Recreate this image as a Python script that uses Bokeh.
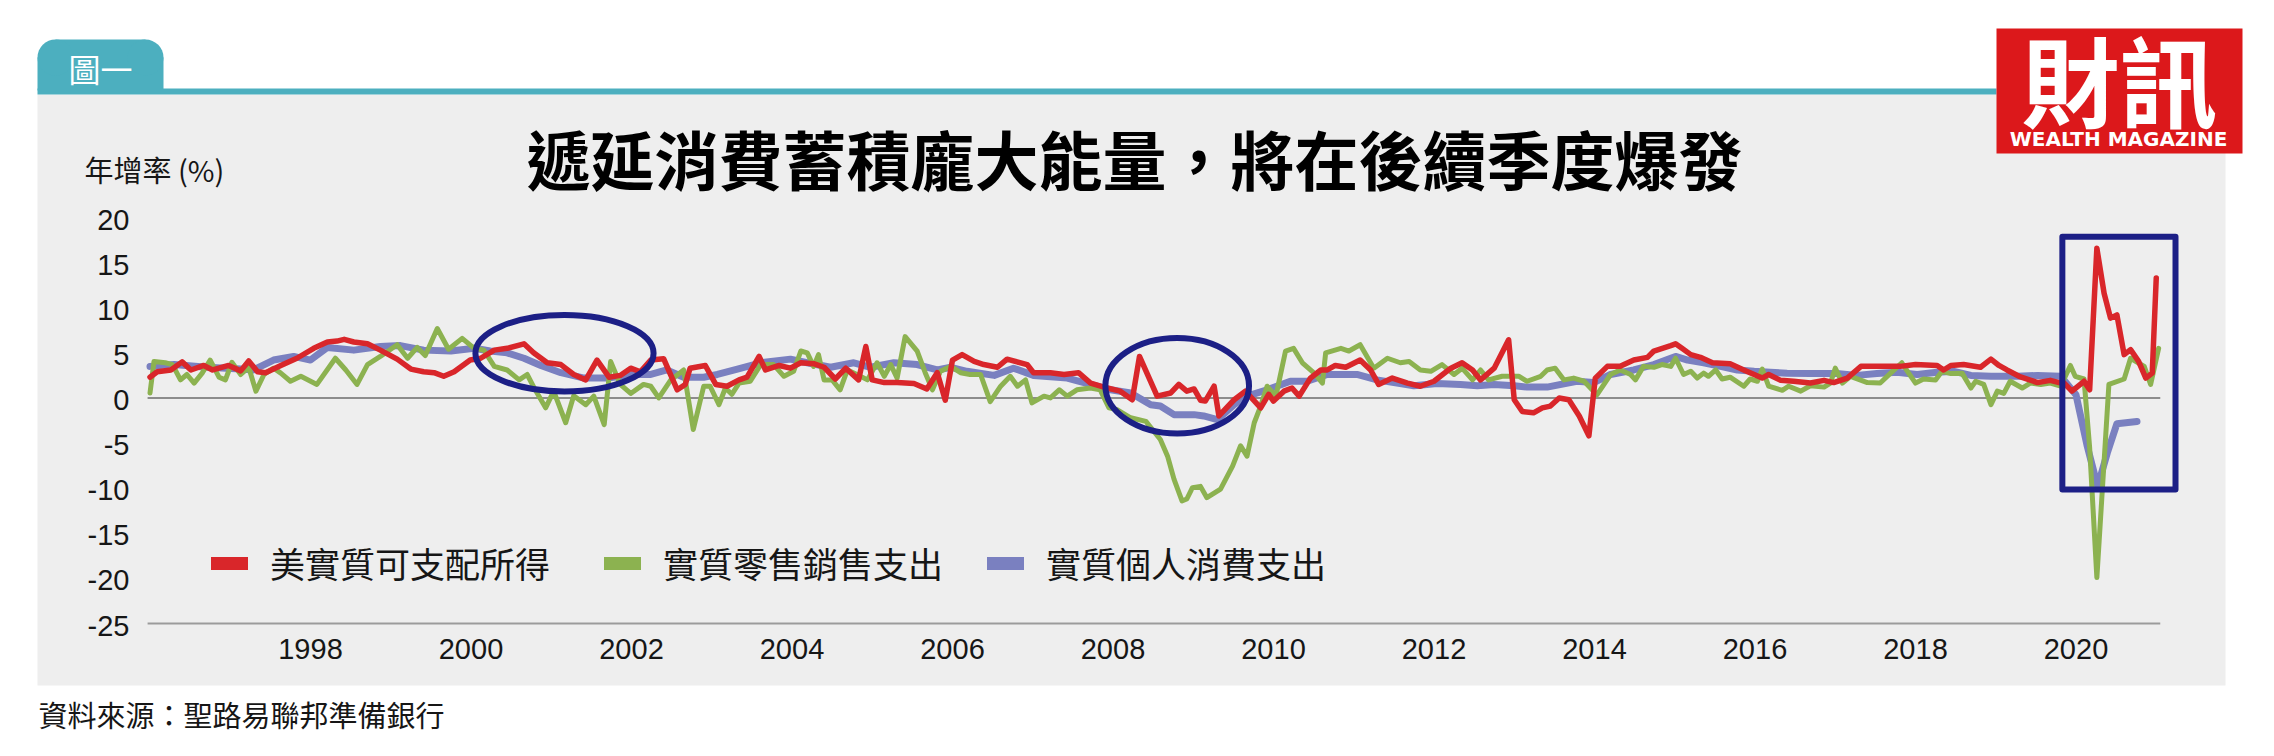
from bokeh.plotting import figure
from bokeh.models import Range1d, Label, Legend, LegendItem
from bokeh.core.properties import value
from bokeh.embed import file_html
from bokeh.resources import INLINE

# ---------------- data ----------------
red_x = [1996.00, 1996.09, 1996.26, 1996.40, 1996.51, 1996.67, 1996.78, 1996.98, 1997.13, 1997.23,
         1997.34, 1997.44, 1997.63, 1997.83, 1998.04, 1998.21, 1998.33, 1998.42, 1998.54, 1998.71,
         1998.87, 1999.08, 1999.25, 1999.41, 1999.54, 1999.66, 1999.79, 1999.99, 2000.12, 2000.29,
         2000.45, 2000.66, 2000.78, 2000.95, 2001.12, 2001.28, 2001.43, 2001.57, 2001.72, 2001.86,
         2001.99, 2002.11, 2002.24, 2002.40, 2002.57, 2002.67, 2002.73, 2002.92, 2003.05, 2003.19,
         2003.34, 2003.44, 2003.59, 2003.67, 2003.84, 2003.98, 2004.11, 2004.27, 2004.40, 2004.54,
         2004.67, 2004.83, 2004.92, 2005.00, 2005.15, 2005.31, 2005.52, 2005.68, 2005.81, 2005.91,
         2006.00, 2006.12, 2006.27, 2006.39, 2006.56, 2006.68, 2006.93, 2007.01, 2007.22, 2007.39,
         2007.57, 2007.72, 2007.93, 2008.09, 2008.24, 2008.33, 2008.55, 2008.72, 2008.82, 2008.92,
         2009.01, 2009.09, 2009.15, 2009.26, 2009.32, 2009.51, 2009.65, 2009.84, 2009.94, 2010.00,
         2010.13, 2010.23, 2010.32, 2010.46, 2010.59, 2010.67, 2010.77, 2010.90, 2011.08, 2011.21,
         2011.31, 2011.48, 2011.67, 2011.83, 2012.00, 2012.21, 2012.35, 2012.48, 2012.58, 2012.75,
         2012.93, 2013.00, 2013.10, 2013.24, 2013.35, 2013.45, 2013.56, 2013.68, 2013.81, 2013.93,
         2014.01, 2014.16, 2014.32, 2014.49, 2014.66, 2014.74, 2014.95, 2015.01, 2015.09, 2015.20,
         2015.32, 2015.47, 2015.69, 2015.86, 2016.09, 2016.17, 2016.32, 2016.48, 2016.69, 2016.86,
         2016.98, 2017.15, 2017.32, 2017.52, 2017.81, 2018.00, 2018.27, 2018.35, 2018.44, 2018.60,
         2018.81, 2018.94, 2019.04, 2019.14, 2019.29, 2019.52, 2019.68, 2019.79, 2019.85, 2019.95,
         2020.10, 2020.17, 2020.26, 2020.35, 2020.43, 2020.51, 2020.60, 2020.68, 2020.78, 2020.87,
         2020.95, 2021.00]
red_y = [2.3, 2.9, 3.1, 4.0, 3.1, 3.6, 3.1, 3.6, 3.0, 4.1,
         2.9, 2.8, 3.6, 4.4, 5.5, 6.2, 6.3, 6.5, 6.2, 6.0,
         5.3, 4.3, 3.2, 2.9, 2.8, 2.4, 2.9, 4.2, 4.4, 5.3,
         5.5, 6.0, 5.0, 3.9, 3.7, 2.6, 2.0, 4.2, 2.3, 2.5,
         3.3, 2.9, 4.2, 4.35, 0.9, 1.5, 3.3, 3.6, 1.5, 1.3,
         2.0, 2.3, 4.6, 3.1, 3.6, 3.3, 3.9, 3.8, 3.4, 2.1,
         3.3, 2.0, 5.7, 2.0, 1.7, 1.7, 1.6, 1.0, 2.8, -0.25,
         4.2, 4.8, 4.05, 3.7, 3.4, 4.3, 3.7, 2.8, 2.8, 2.6,
         2.8, 1.65, 1.1, 0.75, -0.2, 4.6, 0.2, 0.55, 1.5, 0.75,
         1.0, -0.25, -0.35, 1.3, -2.0, -0.2, 0.75, -1.1, 0.4, -0.35,
         0.75, 1.1, 0.2, 2.2, 3.1, 3.1, 3.6, 3.4, 4.2, 3.1,
         1.5, 2.2, 1.65, 1.3, 1.85, 3.3, 3.9, 3.1, 2.0, 3.3,
         6.45, -0.2, -1.5, -1.65, -1.1, -0.9, 0.0, -0.2, -2.0, -4.2,
         2.2, 3.5, 3.5, 4.2, 4.5, 5.2, 5.8, 6.0, 5.5, 4.8,
         4.5, 3.9, 3.8, 3.1, 2.2, 2.6, 1.95, 1.85, 1.65, 1.95,
         1.7, 2.2, 3.5, 3.5, 3.5, 3.7, 3.6, 3.1, 3.6, 3.7,
         3.4, 4.3, 3.6, 3.1, 2.4, 1.7, 1.95, 1.7, 1.65, 0.75,
         1.85, 0.9, 16.6, 11.6, 8.85, 9.2, 4.8, 5.35, 4.05, 2.2,
         2.75, 13.3]

green_x = [1996.00, 1996.05, 1996.19, 1996.28, 1996.38, 1996.46, 1996.55, 1996.65, 1996.75, 1996.86,
           1996.94, 1997.02, 1997.13, 1997.23, 1997.32, 1997.42, 1997.54, 1997.63, 1997.75, 1997.88,
           1998.08, 1998.31, 1998.44, 1998.58, 1998.71, 1998.87, 1999.08, 1999.21, 1999.33, 1999.43,
           1999.58, 1999.72, 1999.89, 2000.04, 2000.16, 2000.29, 2000.45, 2000.60, 2000.70, 2000.80,
           2000.93, 2001.03, 2001.18, 2001.28, 2001.43, 2001.53, 2001.66, 2001.74, 2001.86, 2001.99,
           2002.15, 2002.24, 2002.34, 2002.49, 2002.65, 2002.77, 2002.90, 2002.98, 2003.09, 2003.17,
           2003.25, 2003.34, 2003.48, 2003.61, 2003.77, 2003.90, 2004.02, 2004.11, 2004.19, 2004.27,
           2004.33, 2004.40, 2004.50, 2004.60, 2004.69, 2004.81, 2004.94, 2005.06, 2005.15, 2005.23,
           2005.31, 2005.41, 2005.56, 2005.66, 2005.75, 2005.85, 2005.98, 2006.10, 2006.22, 2006.35,
           2006.47, 2006.60, 2006.72, 2006.81, 2006.91, 2006.99, 2007.14, 2007.22, 2007.33, 2007.43,
           2007.55, 2007.72, 2007.84, 2007.95, 2008.05, 2008.22, 2008.41, 2008.59, 2008.68, 2008.76,
           2008.86, 2008.92, 2008.99, 2009.09, 2009.17, 2009.34, 2009.49, 2009.59, 2009.67, 2009.76,
           2009.84, 2009.92, 2010.03, 2010.15, 2010.25, 2010.36, 2010.50, 2010.61, 2010.65, 2010.84,
           2010.94, 2011.08, 2011.25, 2011.42, 2011.58, 2011.69, 2011.83, 2011.96, 2012.10, 2012.25,
           2012.35, 2012.48, 2012.58, 2012.68, 2012.85, 2013.06, 2013.16, 2013.33, 2013.41, 2013.51,
           2013.62, 2013.74, 2013.87, 2013.95, 2014.03, 2014.20, 2014.32, 2014.45, 2014.51, 2014.61,
           2014.74, 2014.84, 2014.95, 2015.01, 2015.11, 2015.20, 2015.28, 2015.36, 2015.42, 2015.51,
           2015.59, 2015.69, 2015.86, 2015.94, 2016.03, 2016.09, 2016.17, 2016.34, 2016.42, 2016.57,
           2016.69, 2016.86, 2016.94, 2017.00, 2017.09, 2017.19, 2017.40, 2017.56, 2017.69, 2017.83,
           2017.90, 2018.00, 2018.10, 2018.25, 2018.33, 2018.44, 2018.58, 2018.69, 2018.75, 2018.85,
           2018.94, 2019.02, 2019.10, 2019.18, 2019.33, 2019.43, 2019.56, 2019.68, 2019.81, 2019.93,
           2019.99, 2020.10, 2020.17, 2020.26, 2020.41, 2020.60, 2020.68, 2020.85, 2020.93, 2021.03]
green_y = [0.55, 4.05, 3.9, 3.7, 2.0, 2.6, 1.65, 2.75, 4.2, 2.3,
           2.0, 3.95, 2.6, 3.4, 0.75, 2.6, 3.3, 2.75, 1.85, 2.4,
           1.5, 4.4, 3.1, 1.5, 3.7, 4.6, 5.9, 4.4, 5.6, 4.7,
           7.7, 5.4, 6.6, 5.5, 5.3, 3.5, 3.1, 2.0, 2.6, 0.9,
           -1.1, 0.75, -2.75, 0.25, -0.75, 0.2, -2.95, 4.05, 1.5, 0.5,
           1.5, 1.3, 0.0, 2.0, 3.1, -3.5, 1.3, 1.3, -0.75, 1.1,
           0.4, 1.65, 1.85, 3.7, 3.7, 2.4, 2.95, 5.2, 5.0, 3.5,
           4.8, 2.0, 2.0, 0.9, 3.1, 2.6, 2.0, 3.9, 2.4, 3.7,
           2.2, 6.8, 5.2, 2.8, 0.9, 2.95, 3.5, 2.8, 2.6, 2.6,
           -0.4, 1.3, 2.4, 1.3, 2.0, -0.55, 0.2, 0.0, 0.9, 0.2,
           0.9, 1.1, 0.9, -1.1, -1.3, -2.2, -2.6, -4.6, -6.45, -9.0,
           -11.4, -11.2, -9.95, -9.8, -11.05, -10.1, -7.55, -5.3, -6.45, -2.75,
           -0.9, 1.3, 0.2, 5.2, 5.5, 3.9, 2.8, 1.65, 5.0, 5.5,
           5.2, 5.9, 3.3, 4.4, 3.9, 4.05, 3.1, 2.95, 3.7, 2.6,
           3.3, 2.0, 3.1, 2.0, 2.4, 2.4, 1.85, 2.4, 3.1, 3.3,
           2.0, 2.2, 1.85, 1.1, 0.35, 2.6, 3.1, 2.6, 2.0, 3.5,
           3.4, 3.7, 3.5, 4.4, 2.6, 2.95, 2.2, 2.75, 2.4, 3.1,
           2.1, 2.3, 1.3, 2.1, 1.85, 3.2, 1.3, 0.85, 1.3, 0.75,
           1.35, 1.2, 1.65, 3.3, 1.65, 2.4, 1.7, 1.65, 2.75, 3.9,
           2.95, 1.65, 2.1, 2.0, 2.95, 2.7, 2.75, 1.1, 1.85, 1.5,
           -0.75, 0.75, 0.5, 1.85, 1.1, 1.65, 1.5, 1.65, 1.3, 3.6,
           2.4, 2.1, -5.5, -19.9, 1.5, 2.1, 4.4, 3.5, 1.5, 5.5]

blue_x = [1996.00, 1996.30, 1996.71, 1997.13, 1997.29, 1997.54, 1997.79, 1998.00, 1998.21, 1998.54,
          1998.87, 1999.12, 1999.41, 1999.75, 2000.04, 2000.24, 2000.45, 2000.66, 2000.87, 2001.12,
          2001.41, 2001.70, 2002.03, 2002.24, 2002.44, 2002.65, 2002.90, 2003.07, 2003.32, 2003.61,
          2003.98, 2004.19, 2004.48, 2004.77, 2004.98, 2005.27, 2005.56, 2005.81, 2005.98, 2006.18,
          2006.52, 2006.76, 2007.01, 2007.43, 2007.72, 2007.97, 2008.22, 2008.47, 2008.59, 2008.76,
          2009.01, 2009.13, 2009.30, 2009.51, 2009.67, 2009.92, 2010.21, 2010.42, 2010.67, 2011.04,
          2011.29, 2011.50, 2011.75, 2012.04, 2012.33, 2012.54, 2012.75, 2013.00, 2013.16, 2013.41,
          2013.78, 2013.99, 2014.20, 2014.49, 2014.74, 2014.95, 2015.01, 2015.16, 2015.36, 2015.57,
          2015.78, 2015.99, 2016.19, 2016.40, 2016.69, 2017.02, 2017.27, 2017.52, 2017.77, 2018.02,
          2018.27, 2018.48, 2018.69, 2018.94, 2019.27, 2019.52, 2019.81, 2020.00, 2020.14, 2020.27,
          2020.39, 2020.51, 2020.76]
blue_y = [3.5, 3.7, 3.4, 3.2, 3.1, 4.2, 4.6, 4.2, 5.6, 5.3,
          5.7, 5.8, 5.3, 5.2, 5.5, 5.2, 5.0, 4.4, 3.6, 2.8,
          2.2, 2.2, 2.6, 2.6, 3.1, 2.3, 2.3, 2.6, 3.2, 3.9,
          4.3, 3.9, 3.4, 3.9, 3.4, 3.9, 3.7, 3.1, 3.4, 2.95,
          2.5, 3.3, 2.5, 2.2, 1.5, 0.9, 0.55, -0.75, -0.9, -1.85,
          -1.85, -2.0, -2.4, -0.75, 0.2, 0.9, 1.85, 1.85, 2.6, 2.6,
          2.0, 1.7, 1.35, 1.6, 1.5, 1.35, 1.5, 1.35, 1.2, 1.2,
          1.85, 1.7, 2.6, 3.1, 3.7, 4.4, 4.6, 4.2, 3.9, 3.5,
          3.1, 2.95, 2.85, 2.75, 2.7, 2.7, 2.5, 2.7, 2.85, 2.6,
          2.85, 2.95, 2.5, 2.4, 2.4, 2.5, 2.4, 0.35, -5.35, -9.8,
          -6.1, -2.85, -2.6]

series_names = ["美實質可支配所得", "實質零售銷售支出", "實質個人消費支出"]
y_ticks = [-25, -20, -15, -10, -5, 0, 5, 10, 15, 20]
year_ticks = [1998, 2000, 2002, 2004, 2006, 2008, 2010, 2012, 2014, 2016, 2018, 2020]

# highlight marks (data units)
ell_x = [2001.165, 2008.80]
ell_y = [4.96, 1.36]
ell_w = [2.22, 1.79]
ell_h = [8.48, 10.6]
box_left, box_right, box_top, box_bottom = 2019.83, 2021.24, 17.87, -10.14

title_text = "遞延消費蓄積龐大能量，將在後續季度爆發"
unit_text = "年增率 (%)"
source_text = "資料來源：聖路易聯邦準備銀行"
tab_text = "圖一"
logo_text = "財訊"
logo_sub = "WEALTH MAGAZINE"

# ---------------- geometry / styles ----------------
W, H = 2274, 756
PPY = 80.25            # pixels per year
PX_1998 = 310          # pixel x of 1998
PPU = 406 / 45         # pixels per percentage point
PY_ZERO = 217 + 20 * PPU


def px2x(px):
    return 1998 + (px - PX_1998) / PPY


def py2y(py):
    return (PY_ZERO - py) / PPU


PANEL = "#eeeeee"
RED = "#d9262a"
GREEN = "#8cb250"
BLUE = "#7a80c0"
NAVY = "#1c1f86"
TEAL = "#4cafbf"
LOGO_RED = "#dc181b"
TXT = "#161616"
CJK = "Noto Sans CJK TC"
NUM = "Liberation Sans"

p = figure(width=W, height=H, output_backend="svg", toolbar_location=None, tools="",
           x_range=Range1d(px2x(0), px2x(W)), y_range=Range1d(py2y(H), py2y(0)),
           x_axis_location=None, y_axis_location=None, min_border=0,
           background_fill_color="white", border_fill_color="white", outline_line_color=None)
p.xgrid.visible = False
p.ygrid.visible = False


def rect(l, r, t, b, color):
    p.quad(left=[px2x(l)], right=[px2x(r)], top=[py2y(t)], bottom=[py2y(b)],
           fill_color=color, line_color=None)


# page decorations
rect(37, 2225, 94, 685, PANEL)                 # grey panel
rect(37, 1996, 88, 94, TEAL)                   # teal rule
rect(37, 163, 57, 90, TEAL)                    # tab body
rect(55, 145, 39, 58, TEAL)
p.circle(x=[px2x(55), px2x(145)], y=[py2y(57), py2y(57)], radius=18 / PPY,
         fill_color=TEAL, line_color=None)
rect(1996, 2242, 28, 153, LOGO_RED)            # logo block

# axis lines
x_lo = min(red_x + green_x + blue_x) - 0.03
x_hi = max(red_x) + 0.05
p.line(x=[x_lo, x_hi], y=[0, 0], line_color="#8c8c8c", line_width=2)
p.line(x=[x_lo, x_hi], y=[min(y_ticks), min(y_ticks)], line_color="#9b9b9b", line_width=2)

# tick labels
p.text(x=year_ticks, y=[py2y(648)] * len(year_ticks), text=[str(t) for t in year_ticks],
       text_font=value(NUM), text_font_size=value("29px"), text_color=TXT,
       text_align="center", text_baseline="middle")
p.text(x=[px2x(129)] * len(y_ticks), y=[v - 2 / PPU for v in y_ticks], text=["%d" % v for v in y_ticks],
       text_font=value(NUM), text_font_size=value("29px"), text_color=TXT,
       text_align="right", text_baseline="middle")

# series
r_blue = p.line(blue_x, blue_y, line_color=BLUE, line_width=7, line_join="round", line_cap="round")
r_green = p.line(green_x, green_y, line_color=GREEN, line_width=5, line_join="round", line_cap="round")
r_red = p.line(red_x, red_y, line_color=RED, line_width=5.5, line_join="round", line_cap="round")

# highlights
p.ellipse(x=ell_x, y=ell_y, width=ell_w, height=ell_h, fill_color=None, line_color=NAVY, line_width=6)
p.quad(left=[box_left], right=[box_right], top=[box_top], bottom=[box_bottom],
       fill_color=None, line_color=NAVY, line_width=6, line_join="round")

# legend swatches: single-point lines (draw nothing on the plot, thick bar in legend)
sw = []
for col, xs, ys in ((RED, red_x, red_y), (GREEN, green_x, green_y), (BLUE, blue_x, blue_y)):
    sw.append(p.line(x=xs[:1], y=ys[:1], line_color=col, line_width=13, line_cap="round"))
leg_x = [211, 604, 987]
for r, name, vx in zip(sw, series_names, leg_x):
    lg = Legend(items=[LegendItem(label=name, renderers=[r])], location=(vx, H - 563 - 25),
                orientation="horizontal", padding=0, margin=0, spacing=0,
                glyph_width=37, glyph_height=50, label_height=50, label_standoff=22,
                label_text_font=CJK, label_text_font_size="35px", label_text_color=TXT,
                border_line_color=None, background_fill_alpha=0)
    p.add_layout(lg)


def label(x, y, text, size, color=TXT, font=CJK, style="normal", align="left"):
    p.add_layout(Label(x=px2x(x), y=py2y(y), text=text,
                       text_font=font, text_font_size=size, text_color=color,
                       text_font_style=style, text_align=align, text_baseline="middle"))


label(100, 67, tab_text, "32px", color="white", align="center")
label(1134, 156, title_text, "64px", color="#000000", style="bold", align="center")
label(84, 168, unit_text, "29px")
label(38, 713, source_text, "29px")
label(2119, 76, logo_text, "98px", color="white", style="bold", align="center")
label(2118, 138, logo_sub, "20px", color="white", font="DejaVu Sans", style="bold", align="center")

open("out.html", "w").write(file_html(p, INLINE))
